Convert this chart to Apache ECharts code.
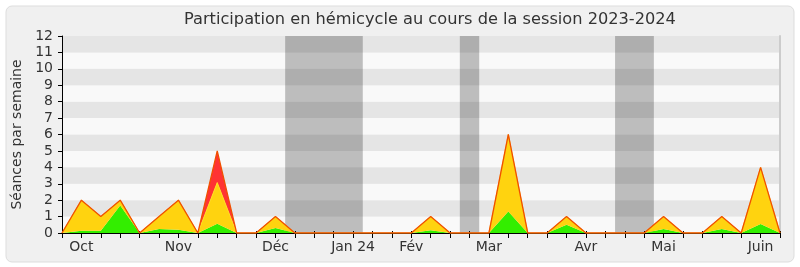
<!DOCTYPE html>
<html>
<head>
<meta charset="utf-8">
<script src="https://cdn.jsdelivr.net/npm/echarts@6/dist/echarts.min.js"></script>
<style>html,body{margin:0;padding:0;background:#fff}#c{width:800px;height:267px}</style>
</head>
<body>
<div id="c"></div>
<script>
// week index 0..37
var weeks = [];
for (var i = 0; i <= 37; i++) weeks.push(String(i));
var totalVals  = [0,2,1,2,0,1,2,0,5,0,0,1,0,0,0,0,0,0,0,1,0,0,0,6,0,0,1,0,0,0,0,1,0,0,1,0,4,0];
var greenVals  = [0,0.14,0.14,1.68,0,0.24,0.2,0,0.57,0,0,0.3,0,0,0,0,0,0,0,0.16,0,0,0,1.31,0,0,0.5,0,0,0,0,0.24,0,0,0.24,0,0.55,0];
var yellowVals = [0,1.86,0.86,0.32,0,0.76,1.8,0,2.5,0,0,0.7,0,0,0,0,0,0,0,0.84,0,0,0,4.69,0,0,0.5,0,0,0,0,0.76,0,0,0.76,0,3.45,0];
var redVals    = [0,0,0,0,0,0,0,0,1.93,0,0,0,0,0,0,0,0,0,0,0,0,0,0,0,0,0,0,0,0,0,0,0,0,0,0,0,0,0];
var labelPos   = [1,6,11,15,18,22,27,31,36];
var labelNames = ['Oct','Nov','Déc','Jan 24','Fév','Mar','Avr','Mai','Juin'];
var holidayStart = [11.5,20.5,28.5];
var holidayEnd   = [15.5,21.5,30.5];

var areas = holidayStart.map(function(s,i){ return [{xAxis:s},{xAxis:holidayEnd[i]}]; });

var chart = echarts.init(document.getElementById('c'), null, {renderer:'canvas'});
var font = 'DejaVu Sans';
chart.setOption({
  animation:false,
  backgroundColor:'#ffffff',
  graphic:[{type:'rect', z:-10, silent:true, shape:{x:6,y:6,width:788,height:256,r:6},
            style:{fill:'#f0f0f0', stroke:'#dddddd', lineWidth:1}}],
  title:{text:'Participation en hémicycle au cours de la session 2023-2024', left:179, top:7,
         textStyle:{fontFamily:font, fontSize:16.2, fontWeight:'normal', color:'#333'}},
  grid:{left:62, right:20, top:36, bottom:34},
  xAxis:[{
    type:'category', data:weeks, boundaryGap:false, position:'bottom',
    axisLine:{show:true, onZero:false, lineStyle:{color:'#000', width:1}},
    axisTick:{show:true, interval:0, length:5, lineStyle:{color:'#000'}},
    splitLine:{show:false},
    axisLabel:{fontFamily:font, fontSize:14, color:'#333', margin:7, interval:0,
      formatter:function(v, idx){ var k = labelPos.indexOf(idx); return k>=0 ? labelNames[k] : ''; }}
  },{
    type:'value', min:0, max:37, interval:1, position:'top',
    axisLine:{show:false}, axisTick:{show:true, length:2, lineStyle:{color:'#000'}},
    axisLabel:{show:false}, splitLine:{show:false}
  }],
  yAxis:[{
    type:'value', min:0, max:12, interval:1,
    name:'Séances par semaine', nameLocation:'middle', nameGap:38, nameRotate:90,
    nameTextStyle:{fontFamily:font, fontSize:14, color:'#333'},
    axisLine:{show:true, lineStyle:{color:'#000'}},
    axisTick:{show:true, length:4, lineStyle:{color:'#000'}},
    axisLabel:{fontFamily:font, fontSize:14, color:'#333', margin:9},
    splitLine:{show:false},
    splitArea:{show:true, areaStyle:{color:['#f9f9f9','#e5e5e5']}}
  },{
    type:'value', min:0, max:12, interval:1, position:'right',
    axisLine:{show:true, lineStyle:{color:'#cccccc', width:2}}, axisTick:{show:false}, axisLabel:{show:false}, splitLine:{show:false}
  }],
  series:[
    {name:'holidays', type:'line', xAxisIndex:1, yAxisIndex:0, data:[], symbol:'none', z:1,
     markArea:{silent:true, itemStyle:{color:'rgba(0,0,0,0.24)'}, data:areas}},
    {name:'green', type:'line', stack:'s', data:greenVals, symbol:'none', z:2,
     lineStyle:{width:0, color:'#33ee00'}, areaStyle:{color:'#33ee00', opacity:1}, itemStyle:{color:'#33ee00'}},
    {name:'yellow', type:'line', stack:'s', data:yellowVals, symbol:'none', z:2,
     lineStyle:{width:1, color:'#ffe020'}, areaStyle:{color:'#ffd30f', opacity:1}, itemStyle:{color:'#ffd30f'}},
    {name:'red', type:'line', stack:'s', data:redVals, symbol:'none', z:2,
     lineStyle:{width:0, color:'#ff3333'}, areaStyle:{color:'#ff3333', opacity:1}, itemStyle:{color:'#ff3333'}},
    {name:'total', type:'line', data:totalVals, symbol:'none', z:5,
     lineStyle:{width:1.3, color:'#f05000'}, itemStyle:{color:'#f05000'}}
  ]
});
</script>
</body>
</html>
